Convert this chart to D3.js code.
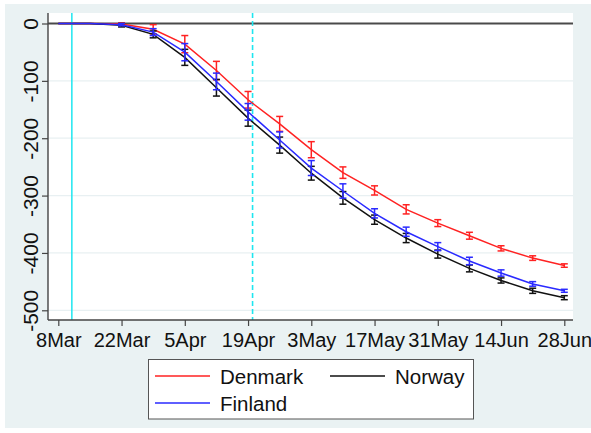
<!DOCTYPE html>
<html>
<head>
<meta charset="utf-8">
<script src="https://cdn.jsdelivr.net/npm/d3@7"></script>
<style>
  html, body { margin: 0; padding: 0; background: #ffffff; }
  svg { display: block; }
  text { font-family: "Liberation Sans", Arial, sans-serif; fill: #111; }
</style>
</head>
<body>
<svg id="chart" width="591" height="433"></svg>
<script>
// Weekly observation dates
const weeks = ["2020-03-08","2020-03-15","2020-03-22","2020-03-29","2020-04-05","2020-04-12",
  "2020-04-19","2020-04-26","2020-05-03","2020-05-10","2020-05-17","2020-05-24",
  "2020-05-31","2020-06-07","2020-06-14","2020-06-21","2020-06-28"];

// Point estimates per country
const denmark = [0, 0, -1, -10, -36, -82, -133, -175, -220, -260, -291, -324, -348, -370, -392, -409, -422];
const finland = [0, 0, -2, -15, -50, -101, -154, -203, -252, -292, -331, -363, -389, -414, -435, -454, -466];
const norway  = [0, 0, -3, -19, -59, -112, -165, -212, -261, -304, -342, -374, -402, -427, -448, -466, -478];

// Half-widths of the confidence intervals
const denmarkCI = [0, 0, 2, 8, 15, 16, 14.5, 13, 14, 10, 8, 8, 6, 6, 4.5, 4, 3];
const finlandCI = [0, 0, 2, 6, 15, 14.5, 14.5, 14, 13, 12.5, 8, 8, 7, 6.5, 5.5, 4, 2.6];
const norwayCI  = [0, 0, 3, 6, 14, 14.5, 14, 14, 12, 11, 8, 8, 7, 6, 4.5, 4.5, 3.5];

// Axis ticks
const xTickDates  = ["2020-03-08","2020-03-22","2020-04-05","2020-04-19","2020-05-03",
  "2020-05-17","2020-05-31","2020-06-14","2020-06-28"];
const xTickLabels = ["8Mar","22Mar","5Apr","19Apr","3May","17May","31May","14Jun","28Jun"];
const yTicks = [0, -100, -200, -300, -400, -500];
const yTickLabels = ["0", "-100", "-200", "-300", "-400", "-500"];

// Reference dates marked with vertical lines
const solidRefDate  = "2020-03-11";
const dashedRefDate = "2020-04-20";

const seriesNames  = ["Denmark", "Finland", "Norway"];
const seriesColors = ["#ff2222", "#2a2aff", "#111111"];

const parse = d3.utcParse("%Y-%m-%d");
const series = [
  { name: seriesNames[0], color: seriesColors[0], vals: denmark, ci: denmarkCI },
  { name: seriesNames[1], color: seriesColors[1], vals: finland, ci: finlandCI },
  { name: seriesNames[2], color: seriesColors[2], vals: norway,  ci: norwayCI }
].map(s => ({ ...s, pts: weeks.map((w, i) => ({ date: parse(w), v: s.vals[i], e: s.ci[i] })) }));

const svg = d3.select("#chart");
const W = 591, H = 433;
const plot = { left: 48, right: 573, top: 13, bottom: 320 };

// Outer graph region
svg.append("rect").attr("x", 5).attr("y", 4).attr("width", W - 5).attr("height", 424)
  .attr("fill", "#eaf2f3");
// Plot region
svg.append("rect").attr("x", plot.left).attr("y", plot.top)
  .attr("width", plot.right - plot.left).attr("height", plot.bottom - plot.top)
  .attr("fill", "#ffffff");

const x = d3.scaleUtc()
  .domain([parse(xTickDates[0]), parse(xTickDates[xTickDates.length - 1])])
  .range([58.3, 564.3]);
const y = d3.scaleLinear().domain([0, -500]).range([23.5, 310.3]);

// Horizontal gridlines
svg.append("g").selectAll("line").data(yTicks.filter(t => t !== 0)).join("line")
  .attr("x1", plot.left).attr("x2", plot.right)
  .attr("y1", d => y(d)).attr("y2", d => y(d))
  .attr("stroke", "#e8f0f2").attr("stroke-width", 1.2);

// Zero reference line
svg.append("line")
  .attr("x1", plot.left).attr("x2", plot.right)
  .attr("y1", y(0)).attr("y2", y(0))
  .attr("stroke", "#4a4a4a").attr("stroke-width", 2);

// Vertical reference lines
svg.append("line")
  .attr("x1", x(parse(solidRefDate))).attr("x2", x(parse(solidRefDate)))
  .attr("y1", plot.top).attr("y2", plot.bottom)
  .attr("stroke", "#1ee6f0").attr("stroke-width", 1.5);
svg.append("line")
  .attr("x1", x(parse(dashedRefDate))).attr("x2", x(parse(dashedRefDate)))
  .attr("y1", plot.top).attr("y2", plot.bottom)
  .attr("stroke", "#1ee6f0").attr("stroke-width", 1.6)
  .attr("stroke-dasharray", "5,3");

// Series: lines and confidence-interval bars
const line = d3.line().x(d => x(d.date)).y(d => y(d.v));
const drawOrder = [series[0], series[2], series[1]];
drawOrder.forEach(s => {
  const g = svg.append("g");
  g.append("path").datum(s.pts).attr("d", line)
    .attr("fill", "none").attr("stroke", s.color).attr("stroke-width", 1.5);
  const bars = s.pts.filter(p => p.e > 0);
  const cap = 3.5;
  g.selectAll(".v").data(bars).join("line")
    .attr("x1", d => x(d.date)).attr("x2", d => x(d.date))
    .attr("y1", d => y(d.v - d.e)).attr("y2", d => y(d.v + d.e))
    .attr("stroke", s.color).attr("stroke-width", 1.5);
  g.selectAll(".top").data(bars).join("line")
    .attr("x1", d => x(d.date) - cap).attr("x2", d => x(d.date) + cap)
    .attr("y1", d => y(d.v + d.e)).attr("y2", d => y(d.v + d.e))
    .attr("stroke", s.color).attr("stroke-width", 1.5);
  g.selectAll(".bot").data(bars).join("line")
    .attr("x1", d => x(d.date) - cap).attr("x2", d => x(d.date) + cap)
    .attr("y1", d => y(d.v - d.e)).attr("y2", d => y(d.v - d.e))
    .attr("stroke", s.color).attr("stroke-width", 1.5);
});

// Y axis
const yAxis = svg.append("g").attr("transform", `translate(${plot.left},0)`)
  .call(d3.axisLeft(y).tickValues(yTicks).tickSize(6).tickPadding(0)
    .tickFormat((d, i) => yTickLabels[i]));
yAxis.select(".domain").remove();
yAxis.selectAll(".tick line").attr("stroke", "#444").attr("stroke-width", 1.2);
yAxis.selectAll(".tick text")
  .attr("x", null).attr("dy", null)
  .attr("transform", "translate(-10.5,0) rotate(-90)")
  .attr("text-anchor", "middle")
  .style("font-size", "21px").style("font-family", "Liberation Sans, Arial, sans-serif")
  .attr("fill", "#111");
svg.append("line").attr("x1", plot.left).attr("x2", plot.left)
  .attr("y1", plot.top).attr("y2", plot.bottom)
  .attr("stroke", "#444").attr("stroke-width", 1.4);

// X axis
const xAxis = svg.append("g").attr("transform", `translate(0,${plot.bottom})`)
  .call(d3.axisBottom(x).tickValues(xTickDates.map(parse)).tickSize(6)
    .tickFormat((d, i) => xTickLabels[i]));
xAxis.select(".domain").remove();
xAxis.selectAll(".tick line").attr("stroke", "#444").attr("stroke-width", 1.2);
xAxis.selectAll(".tick text")
  .attr("y", 27).attr("dy", null)
  .style("font-size", "20px").style("font-family", "Liberation Sans, Arial, sans-serif")
  .attr("fill", "#111");
svg.append("line").attr("x1", plot.left).attr("x2", plot.right)
  .attr("y1", plot.bottom).attr("y2", plot.bottom)
  .attr("stroke", "#444").attr("stroke-width", 1.4);

// Legend
const legend = svg.append("g");
legend.append("rect").attr("x", 148.5).attr("y", 359.5).attr("width", 325).attr("height", 59.5)
  .attr("fill", "#ffffff").attr("stroke", "#555").attr("stroke-width", 1);
const legendPos = [
  { lx: 155, ty: 376, tx: 220 },
  { lx: 155, ty: 403, tx: 220 },
  { lx: 330, ty: 376, tx: 395 }
];
series.forEach((s, i) => {
  const p = legendPos[i];
  legend.append("line").attr("x1", p.lx).attr("x2", p.lx + 55)
    .attr("y1", p.ty).attr("y2", p.ty)
    .attr("stroke", s.color).attr("stroke-width", 1.4);
  legend.append("text").attr("x", p.tx).attr("y", p.ty + 8)
    .style("font-size", "20.5px").text(s.name);
});
</script>
</body>
</html>
